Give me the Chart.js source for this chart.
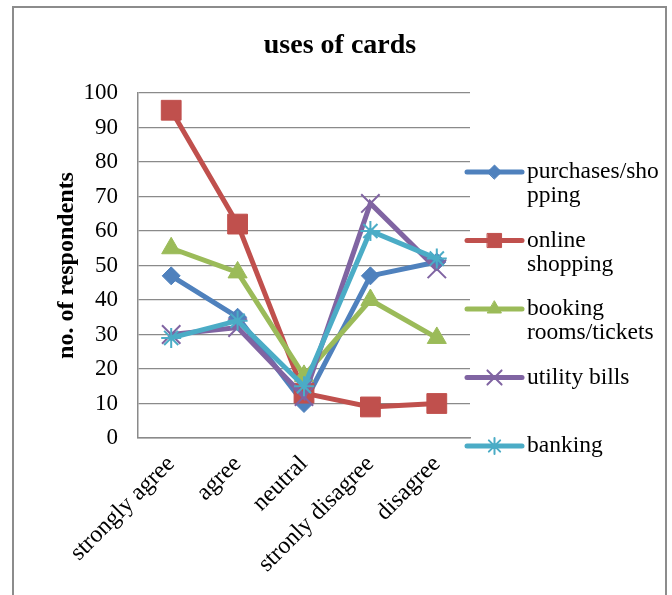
<!DOCTYPE html>
<html>
<head>
<meta charset="utf-8">
<script src="https://cdn.jsdelivr.net/npm/chart.js@4/dist/chart.umd.min.js"></script>
<style>
  html, body { margin: 0; padding: 0; background: #ffffff; }
  #wrap { width: 672px; height: 595px; position: relative; }
</style>
</head>
<body>
<div id="wrap"><canvas id="c" width="672" height="595"></canvas></div>
<script>
// Survey answers: number of respondents per card use
const categories = ['strongly agree', 'agree', 'neutral', 'stronly disagree', 'disagree'];
const purchasesShopping   = [47, 35, 10, 47, 51];
const onlineShopping      = [95, 62, 13, 9, 10];
const bookingRoomsTickets = [55, 48, 18, 40, 29];
const utilityBills        = [30, 32, 12, 68, 49];
const banking             = [29, 34, 15, 60, 52];

const seriesNames = ['purchases/shopping', 'online shopping', 'booking rooms/tickets', 'utility bills', 'banking'];
// legend text as it wraps in the narrow legend column
const legendLines = [['purchases/sho', 'pping'], ['online', 'shopping'], ['booking', 'rooms/tickets'], ['utility bills'], ['banking']];
const yMin = 0, yMax = 100, yStep = 10;

const chartTitle = 'uses of cards';
const yTitle = 'no. of respondents';

const SERIF = '"Liberation Serif", "Times New Roman", serif';
const GRID = '#8a8a8a';

const seriesValues = [purchasesShopping, onlineShopping, bookingRoomsTickets, utilityBills, banking];
const styles = [
  { color: '#4F81BD', point: 'rectRot',  radius: 9,  bw: 1, legendRadius: 7 },
  { color: '#C0504D', point: 'rect',     radius: 14, bw: 1, legendRadius: 10 },
  { color: '#9BBB59', point: 'triangle', radius: 11, bw: 1, legendRadius: 8 },
  { color: '#8064A2', point: 'crossRot', radius: 13, bw: 2, legendRadius: 10 },
  { color: '#4BACC6', point: 'star',     radius: 10, bw: 2, legendRadius: 8 }
];

const datasets = seriesNames.map((name, i) => ({
  label: name,
  data: seriesValues[i],
  borderColor: styles[i].color,
  backgroundColor: styles[i].color,
  borderWidth: 5,
  pointStyle: styles[i].point,
  pointRadius: styles[i].radius,
  pointBorderWidth: styles[i].bw,
  pointBackgroundColor: styles[i].color,
  pointBorderColor: styles[i].color,
  tension: 0,
  fill: false,
  order: seriesNames.length - i   // later series paint on top
}));

// outer frame around the chart
const framePlugin = {
  id: 'frame',
  beforeDraw(chart) {
    const ctx = chart.ctx;
    ctx.save();
    ctx.fillStyle = '#ffffff';
    ctx.fillRect(0, 0, chart.width, chart.height);
    ctx.strokeStyle = '#8c8c8c';
    ctx.lineWidth = 2;
    ctx.strokeRect(13, 7, 653, 640);
    ctx.restore();
  }
};

// title centred over the whole frame
const titlePlugin = {
  id: 'bigTitle',
  afterDraw(chart) {
    const ctx = chart.ctx;
    ctx.save();
    ctx.font = 'bold 28px ' + SERIF;
    ctx.fillStyle = '#000';
    ctx.textAlign = 'center';
    ctx.textBaseline = 'middle';
    ctx.fillText(chartTitle, 340, 46);
    ctx.restore();
  }
};

// legend column to the right of the plot, with wrapped labels
const legendPlugin = {
  id: 'sideLegend',
  afterDraw(chart) {
    const ctx = chart.ctx;
    const area = chart.chartArea;
    const x0 = area.right - 3, x1 = area.right + 52;
    const textX = area.right + 57;
    const firstY = 172, rowGap = 68.5, lineGap = 24;
    ctx.save();
    chart.data.datasets.forEach((ds, i) => {
      const y = firstY + i * rowGap;
      ctx.strokeStyle = ds.borderColor;
      ctx.lineWidth = 5;
      ctx.lineCap = 'round';
      ctx.beginPath();
      ctx.moveTo(x0, y);
      ctx.lineTo(x1, y);
      ctx.stroke();
      ctx.fillStyle = ds.pointBackgroundColor;
      ctx.strokeStyle = ds.pointBorderColor;
      ctx.lineWidth = ds.pointBorderWidth;
      Chart.helpers.drawPoint(ctx, {
        pointStyle: ds.pointStyle,
        radius: styles[i].legendRadius,
        rotation: 0,
        borderWidth: ds.pointBorderWidth
      }, (x0 + x1) / 2, y);
      ctx.fillStyle = '#000';
      ctx.font = '23.5px ' + SERIF;
      ctx.textAlign = 'left';
      ctx.textBaseline = 'middle';
      legendLines[i].forEach((t, k) => ctx.fillText(t, textX, y + k * lineGap));
    });
    ctx.restore();
  }
};

new Chart(document.getElementById('c'), {
  type: 'line',
  data: { labels: categories, datasets },
  plugins: [framePlugin, titlePlugin, legendPlugin],
  options: {
    responsive: false,
    animation: false,
    devicePixelRatio: 1,
    layout: { padding: { left: 0, right: 202, top: 93, bottom: 0 } },
    plugins: {
      legend: { display: false },
      title: { display: false },
      tooltip: { enabled: false }
    },
    scales: {
      x: {
        type: 'category',
        offset: true,
        grid: { display: false, drawTicks: false },
        border: { display: true, color: GRID, width: 1.5 },
        ticks: {
          color: '#000',
          font: { family: SERIF, size: 24 },
          maxRotation: 45,
          minRotation: 45,
          autoSkip: false,
          padding: 12
        },
        afterFit(s) { s.height = 157; }
      },
      y: {
        min: yMin,
        max: yMax,
        grid: { color: GRID, lineWidth: 1.2, drawTicks: false },
        border: { display: true, color: GRID, width: 1.5 },
        ticks: {
          stepSize: yStep,
          color: '#000',
          font: { family: SERIF, size: 23 },
          padding: 20
        },
        title: {
          display: true,
          text: yTitle,
          color: '#000',
          font: { family: SERIF, size: 24, weight: 'bold' },
          padding: { top: 52, bottom: 0 }
        },
        afterFit(s) { s.width = 138; }
      }
    }
  }
});
</script>
</body>
</html>
